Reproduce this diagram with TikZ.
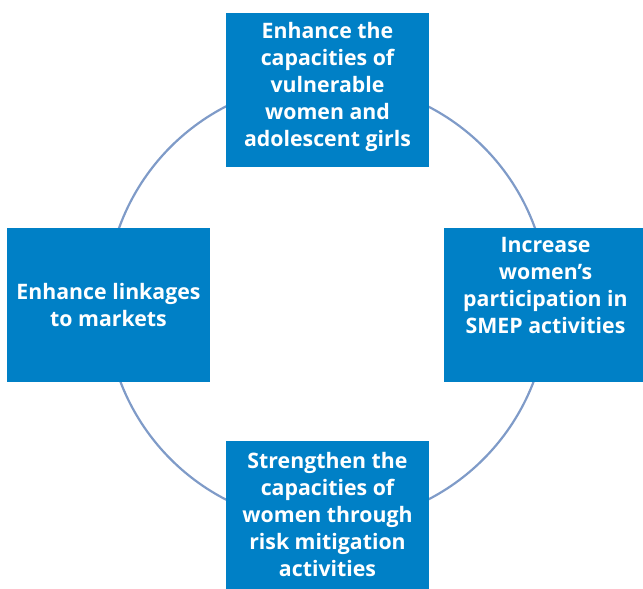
\documentclass[tikz,border=0pt]{standalone}
\usepackage{fontspec}
\setsansfont{Open Sans}
\usetikzlibrary{positioning}

\definecolor{goalblue}{RGB}{0,128,198}
\definecolor{ringblue}{RGB}{127,155,200}

\begin{document}
\begin{tikzpicture}[
    x = 1pt, y = -1pt,
    goal/.style = {
        rectangle,
        fill = goalblue,
        minimum width = 203pt,
        minimum height = 154pt,
        inner sep = 0pt
    },
    goaltext/.style = {
        text = white,
        font = \sffamily\bfseries\fontsize{21.3}{27}\selectfont,
        align = center,
        inner sep = 0pt
    },
    ring/.style = {draw = ringblue, line width = 2.2pt}
]

% Page frame
\useasboundingbox (0, 0) rectangle (643, 589);
\clip (0, 0) rectangle (643, 589);

% Ring behind the boxes
\coordinate (centre) at (327, 303);
\draw[ring] (centre) circle[radius = 221pt];

% Four goal boxes
\node[goal] (capacities) at (327.5, 90) {};
\node[goal] (markets) at (108.5, 305) {};
\node[goal] (participation) at (545.5, 305) {};
\node[goal] (mitigation) at (327.5, 518) {};

% Box texts
\node[goaltext, below = 9pt of capacities.north] (capacitiestext)
    {Enhance the\\capacities of\\vulnerable\\women and\\adolescent girls};
\node[goaltext] (marketstext) at (markets)
    {Enhance linkages\\to markets};
\node[goaltext, below = 9pt of participation.north] (participationtext)
    {Increase\\women’s\\participation in\\SMEP activities};
\node[goaltext, below = 11pt of mitigation.north] (mitigationtext)
    {Strengthen the\\capacities of\\women through\\risk mitigation\\activities};

\end{tikzpicture}
\end{document}
